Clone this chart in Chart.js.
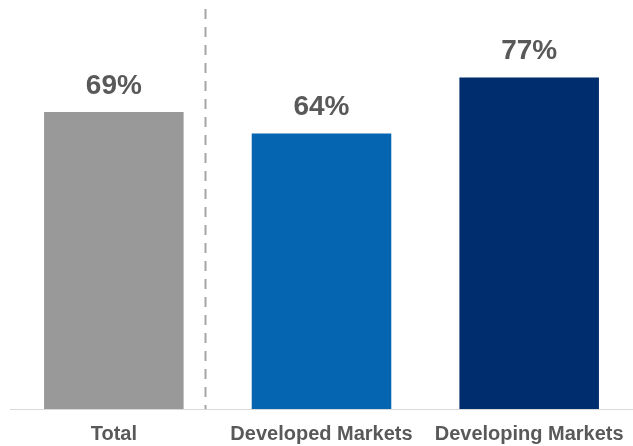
<!DOCTYPE html>
<html><head><meta charset="utf-8">
<script src="https://cdn.jsdelivr.net/npm/chart.js@4"></script>
<style>html,body{margin:0;padding:0;background:#fff;}#wrap{width:633px;height:446px;position:relative;}</style>
</head><body><div id="wrap"><canvas id="c"></canvas></div>
<script>
const categories = ["Total", "Developed Markets", "Developing Markets"];
const values = [69, 64, 77];
const barColors = ["#999999", "#0565b0", "#002d6e"];
const valueLabels = ["69%", "64%", "77%"];

const overlay = {
  id: 'overlay',
  afterDatasetsDraw(chart) {
    const ctx = chart.ctx, x = chart.scales.x, y = chart.scales.y;
    const meta = chart.getDatasetMeta(0);
    ctx.save();
    // dashed separator
    const sx = Math.round(x.getPixelForValue(0.44)) + 0.5;
    ctx.strokeStyle = '#a6a6a6'; ctx.lineWidth = 2; ctx.setLineDash([10, 8]);
    ctx.beginPath(); ctx.moveTo(sx, 9); ctx.lineTo(sx, y.getPixelForValue(0)); ctx.stroke();
    ctx.setLineDash([]);
    // value labels
    ctx.fillStyle = '#595959';
    ctx.font = 'bold 28px "Liberation Sans", Arial, sans-serif';
    ctx.textAlign = 'center'; ctx.textBaseline = 'alphabetic';
    meta.data.forEach((bar, i) => {
      ctx.fillText(valueLabels[i], bar.x, bar.y - 18);
    });
    ctx.restore();
  }
};

new Chart(document.getElementById('c'), {
  type: 'bar',
  data: { labels: categories, datasets: [{ data: values, backgroundColor: barColors, barPercentage: 0.672, categoryPercentage: 1 }] },
  options: {
    responsive: true, maintainAspectRatio: false, animation: false,
    layout: { padding: { left: 10, right: 0, top: 0, bottom: 0 } },
    plugins: { legend: { display: false }, tooltip: { enabled: false } },
    scales: {
      x: {
        afterFit(scale) { scale.height = 37; scale.paddingLeft = 0; scale.paddingRight = 0; },
        grid: { display: false, drawTicks: false },
        border: { display: true, color: '#d9d9d9', width: 1 },
        ticks: { autoSkip: false, maxRotation: 0, minRotation: 0, padding: 13, color: '#595959',
                 font: { family: '"Liberation Sans", Arial, sans-serif', size: 20, weight: 'bold' } }
      },
      y: { display: false, min: 0, max: 95 }
    }
  },
  plugins: [overlay]
});
</script></body></html>
